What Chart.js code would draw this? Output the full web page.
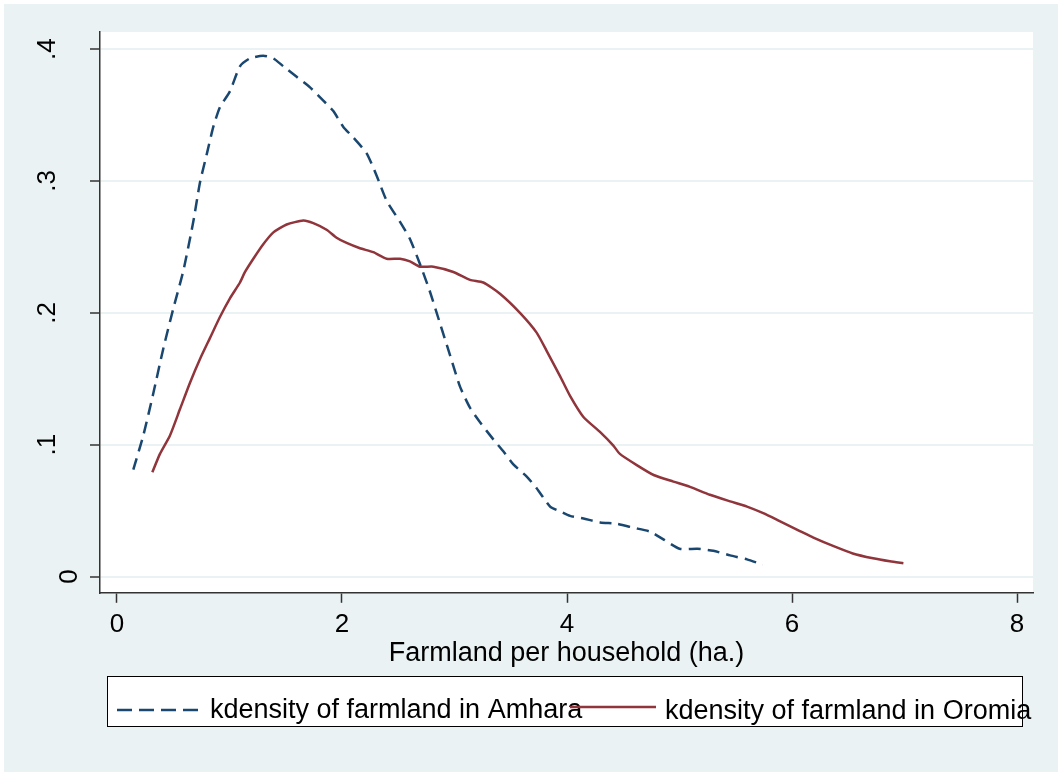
<!DOCTYPE html>
<html>
<head>
<meta charset="utf-8">
<script src="https://cdn.jsdelivr.net/npm/chart.js@4/dist/chart.umd.min.js"></script>
<style>
  body { margin: 0; background: #ffffff; }
  #kd { position: absolute; left: 4px; top: 4px; background: #EAF2F3; }
</style>
</head>
<body>
<canvas id="kd" width="1054" height="768"></canvas>
<script>
// kernel density
var amharaX = [0.145, 0.234, 0.323, 0.412, 0.50, 0.59, 0.678, 0.738, 0.797, 0.856, 0.915, 1.004, 1.093, 1.182, 1.30, 1.39, 1.478, 1.597, 1.716, 1.834, 1.923, 2.012, 2.10, 2.219, 2.308, 2.397, 2.516, 2.604, 2.693, 2.782, 2.871, 2.96, 3.049, 3.138, 3.227, 3.345, 3.434, 3.523, 3.64, 3.73, 3.85, 3.938, 4.027, 4.146, 4.295, 4.44, 4.59, 4.74, 4.86, 5.0, 5.16, 5.30, 5.45, 5.60, 5.74];
var amharaDensity = [0.081, 0.107, 0.139, 0.173, 0.203, 0.232, 0.269, 0.299, 0.320, 0.341, 0.356, 0.368, 0.387, 0.393, 0.395, 0.393, 0.387, 0.379, 0.371, 0.361, 0.353, 0.341, 0.333, 0.321, 0.304, 0.285, 0.269, 0.256, 0.237, 0.216, 0.192, 0.168, 0.144, 0.128, 0.117, 0.104, 0.095, 0.085, 0.076, 0.067, 0.053, 0.0495, 0.046, 0.044, 0.041, 0.040, 0.037, 0.034, 0.028, 0.021, 0.021, 0.0195, 0.016, 0.013, 0.009];

var oromiaX = [0.314, 0.382, 0.471, 0.56, 0.649, 0.738, 0.827, 0.916, 1.004, 1.093, 1.138, 1.212, 1.30, 1.39, 1.508, 1.656, 1.745, 1.863, 1.952, 2.041, 2.16, 2.278, 2.397, 2.516, 2.604, 2.693, 2.812, 2.99, 3.138, 3.256, 3.404, 3.582, 3.73, 3.82, 3.938, 4.027, 4.146, 4.295, 4.41, 4.47, 4.62, 4.77, 4.946, 5.093, 5.27, 5.45, 5.60, 5.744, 5.89, 6.07, 6.19, 6.37, 6.54, 6.72, 6.87, 6.99];
var oromiaDensity = [0.079, 0.093, 0.107, 0.127, 0.147, 0.165, 0.181, 0.197, 0.211, 0.223, 0.231, 0.241, 0.252, 0.261, 0.267, 0.270, 0.268, 0.263, 0.257, 0.253, 0.249, 0.246, 0.241, 0.241, 0.239, 0.235, 0.235, 0.231, 0.225, 0.223, 0.2145, 0.200, 0.185, 0.171, 0.152, 0.137, 0.121, 0.1095, 0.0995, 0.093, 0.0845, 0.077, 0.072, 0.068, 0.062, 0.057, 0.053, 0.048, 0.042, 0.0345, 0.0295, 0.023, 0.0175, 0.0138, 0.0115, 0.010];

var xTicks = [0, 2, 4, 6, 8];
var yTicks = [0, 0.1, 0.2, 0.3, 0.4];
var seriesNames = ["kdensity of farmland in Amhara", "kdensity of farmland in Oromia"];

function pts(xs, ys) {
    return xs.map(function (x, i) { return { x: x, y: ys[i] }; });
}

Chart.defaults.font.family = "'Liberation Sans', Arial, sans-serif";
Chart.defaults.color = "#000";

// white plot region
var plotBg = {
    id: "plotBg",
    beforeDraw: function (chart) {
        var a = chart.chartArea, ctx = chart.ctx;
        ctx.save();
        ctx.fillStyle = "#ffffff";
        ctx.fillRect(a.left, a.top, a.right - a.left, a.bottom - a.top);
        ctx.restore();
    }
};

// stata style legend box under the axis title
var stataLegend = {
    id: "stataLegend",
    afterDraw: function (chart) {
        var ctx = chart.ctx;
        var ds = chart.data.datasets;
        ctx.save();
        ctx.fillStyle = "#ffffff";
        ctx.fillRect(103, 672, 915, 50);
        ctx.strokeStyle = "#000";
        ctx.lineWidth = 1;
        ctx.strokeRect(103.5, 672.5, 915, 50);

        ctx.font = "27px 'Liberation Sans', Arial, sans-serif";
        ctx.textBaseline = "alphabetic";
        var items = [
            { x: 113, y: 706, tx: 206, ty: 714 },
            { x: 566, y: 703, tx: 661, ty: 715 }
        ];
        items.forEach(function (it, i) {
            ctx.beginPath();
            ctx.strokeStyle = ds[i].borderColor;
            ctx.lineWidth = ds[i].borderWidth;
            ctx.setLineDash(i === 0 ? [15, 7] : []);
            ctx.moveTo(it.x, it.y);
            ctx.lineTo(it.x + 86, it.y);
            ctx.stroke();
            ctx.setLineDash([]);
            ctx.fillStyle = "#000";
            ctx.fillText(ds[i].label, it.tx, it.ty);
        });
        ctx.restore();
    }
};

var ctx = document.getElementById("kd").getContext("2d");
var chart = new Chart(ctx, {
    type: "line",
    data: {
        datasets: [{
            label: seriesNames[0],
            data: pts(amharaX, amharaDensity),
            borderColor: "#1A476F",
            borderWidth: 2.5,
            borderDash: [12, 7],
            pointRadius: 0,
            tension: 0.2,
            fill: false
        }, {
            label: seriesNames[1],
            data: pts(oromiaX, oromiaDensity),
            borderColor: "#90353B",
            borderWidth: 2.5,
            pointRadius: 0,
            tension: 0.2,
            fill: false
        }]
    },
    options: {
        responsive: false,
        animation: false,
        devicePixelRatio: 1,
        layout: { padding: { left: 24, right: 25, top: 28, bottom: 102.6 } },
        plugins: {
            legend: { display: false },
            tooltip: { enabled: false }
        },
        scales: {
            x: {
                type: "linear",
                min: -0.151,
                max: 8.142,
                afterBuildTicks: function (scale) {
                    scale.ticks = xTicks.map(function (v) { return { value: v }; });
                },
                grid: {
                    drawOnChartArea: false,
                    tickLength: 10,
                    tickColor: "#333",
                    tickWidth: 1.5
                },
                border: { color: "#333", width: 1.5 },
                ticks: {
                    autoSkip: false,
                    maxRotation: 0,
                    padding: 6,
                    font: { size: 26 }
                },
                title: {
                    display: true,
                    text: "Farmland per household (ha.)",
                    font: { size: 27 },
                    padding: { top: -9, bottom: 0 }
                }
            },
            y: {
                type: "linear",
                min: -0.01236,
                max: 0.413,
                afterBuildTicks: function (scale) {
                    scale.ticks = yTicks.map(function (v) { return { value: v }; });
                },
                afterFit: function (scale) {
                    scale.width = 72;
                    scale.paddingTop = 0;
                    scale.paddingBottom = 0;
                },
                grid: {
                    color: "#EAF2F3",
                    lineWidth: 2,
                    tickLength: 10,
                    tickColor: "#333",
                    tickWidth: 1.5
                },
                border: { color: "#333", width: 1.5 },
                ticks: {
                    autoSkip: false,
                    minRotation: 90,
                    maxRotation: 90,
                    crossAlign: "center",
                    padding: 31,
                    // the "0" label sits closer to the axis, as in stata
                    font: function (c) {
                        var zero = c.tick && c.tick.value === 0;
                        return { size: 26, lineHeight: zero ? 1.7 : 1.2 };
                    },
                    callback: function (v) {
                        return v === 0 ? ["", "0"] : String(v).replace(/^0/, "");
                    }
                }
            }
        }
    },
    plugins: [plotBg, stataLegend]
});
</script>
</body>
</html>
